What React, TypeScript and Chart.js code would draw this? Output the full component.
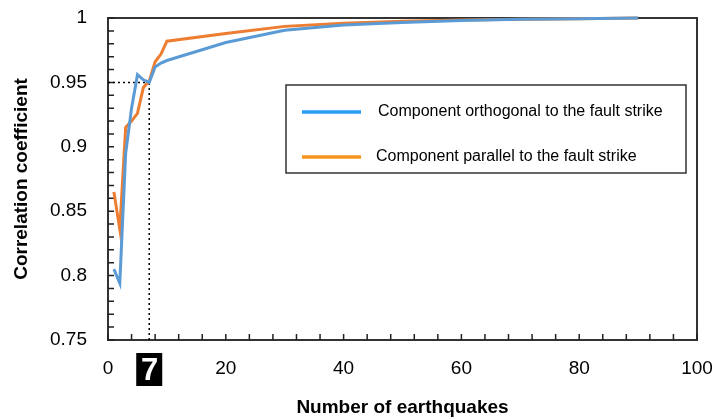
import React, { useEffect, useRef } from "react";
import { Chart, registerables } from "chart.js";

Chart.register(...registerables);

const xValues = [1, 2, 3, 4, 5, 6, 7, 8, 9, 10, 20, 30, 40, 50, 60, 70, 80, 90];
const orthogonal = [0.805, 0.794, 0.895, 0.93, 0.956, 0.952, 0.95, 0.962, 0.965, 0.967, 0.981, 0.9905, 0.9945, 0.9965, 0.998, 0.999, 0.9995, 1.0];
const parallel = [0.865, 0.836, 0.915, 0.92, 0.926, 0.946, 0.951, 0.966, 0.972, 0.982, 0.988, 0.9935, 0.996, 0.9975, 0.9985, 0.999, 0.9995, 1.0];
const seriesLabels = ["Component orthogonal to the fault strike", "Component parallel to the fault strike"];
const lineColors = ["#5B9BD5", "#ED7D31"];
const legendColors = ["#2A9DF4", "#F7941D"];
const highlightX = 7;
const highlightY = 0.95;
const xTitle = "Number of earthquakes";
const yTitle = "Correlation coefficient";

const FONT = "'Liberation Sans', Arial, sans-serif";

const overlay = {
  id: "overlay",
  beforeDatasetsDraw(chart: any) {
    const { ctx, chartArea, scales } = chart;
    const { left, right, top, bottom } = chartArea;
    const x = scales.x, y = scales.y;
    ctx.save();
    ctx.strokeStyle = "#333";
    ctx.lineWidth = 2;
    ctx.strokeRect(left, top, right - left, bottom - top);
    ctx.lineWidth = 1.5;
    ctx.strokeStyle = "#222";
    ctx.beginPath();
    for (let i = 0; i <= 25; i++) {
      const py = y.getPixelForValue(0.75 + i * 0.01);
      ctx.moveTo(left, py);
      ctx.lineTo(left + 6, py);
    }
    for (let i = 0; i <= 25; i++) {
      const px = x.getPixelForValue(i * 4);
      ctx.moveTo(px, bottom);
      ctx.lineTo(px, bottom - 6);
    }
    ctx.stroke();
    const hx = x.getPixelForValue(highlightX);
    const hy = y.getPixelForValue(highlightY);
    ctx.setLineDash([2, 3]);
    ctx.lineWidth = 1.5;
    ctx.strokeStyle = "#000";
    ctx.beginPath();
    ctx.moveTo(left, hy);
    ctx.lineTo(hx, hy);
    ctx.moveTo(hx, bottom);
    ctx.lineTo(hx, hy);
    ctx.stroke();
    ctx.restore();
  },
  afterDraw(chart: any) {
    const { ctx, chartArea, scales } = chart;
    const { bottom } = chartArea;
    const x = scales.x;
    ctx.save();
    const hx = x.getPixelForValue(highlightX);
    ctx.fillStyle = "#000";
    ctx.fillRect(hx - 13, bottom + 13, 26, 33);
    ctx.fillStyle = "#fff";
    ctx.font = `bold 31px ${FONT}`;
    ctx.textAlign = "center";
    ctx.textBaseline = "middle";
    ctx.fillText(String(highlightX), hx + 0.5, bottom + 31);
    const lx = 286, ly = 85, lw = 400, lh = 88;
    ctx.fillStyle = "#fff";
    ctx.fillRect(lx, ly, lw, lh);
    ctx.strokeStyle = "#333";
    ctx.lineWidth = 1.5;
    ctx.strokeRect(lx, ly, lw, lh);
    ctx.font = `16px ${FONT}`;
    ctx.textAlign = "left";
    ctx.textBaseline = "middle";
    const rows = [112, 157];
    seriesLabels.forEach((lab, i) => {
      ctx.strokeStyle = legendColors[i];
      ctx.lineWidth = 3.5;
      ctx.beginPath();
      ctx.moveTo(302, rows[i]);
      ctx.lineTo(361, rows[i]);
      ctx.stroke();
      ctx.fillStyle = "#000";
      ctx.fillText(lab, i === 0 ? 378 : 376, rows[i]);
    });
    ctx.restore();
  },
};

export default function App() {
  const ref = useRef<HTMLCanvasElement>(null);
  useEffect(() => {
    if (!ref.current) return;
    const chart = new Chart(ref.current, {
      type: "line",
      data: {
        datasets: [orthogonal, parallel].map((vals, i) => ({
          label: seriesLabels[i],
          data: xValues.map((xv, j) => ({ x: xv, y: vals[j] })),
          borderColor: lineColors[i],
          backgroundColor: lineColors[i],
          borderWidth: 3,
          pointRadius: 0,
          tension: 0,
          clip: false as any,
        })),
      },
      options: {
        animation: false,
        responsive: true,
        maintainAspectRatio: false,
        layout: { padding: { top: 18, right: 19, left: 0, bottom: 0 } },
        plugins: { legend: { display: false }, tooltip: { enabled: false } },
        scales: {
          x: {
            type: "linear",
            min: 0,
            max: 100,
            ticks: { stepSize: 20, color: "#000", font: { family: FONT, size: 19 }, padding: 17, maxRotation: 0 },
            grid: { display: false, drawTicks: false },
            border: { display: false },
            title: { display: true, text: xTitle, color: "#000", font: { family: FONT, size: 19, weight: "bold" }, padding: 0 },
            afterFit: (s: any) => { s.height = 79; s.paddingLeft = 0; s.paddingRight = 0; },
          },
          y: {
            type: "linear",
            min: 0.75,
            max: 1,
            ticks: {
              stepSize: 0.05,
              color: "#000",
              font: { family: FONT, size: 19 },
              padding: 21,
              callback: (v: any) => String(Number(Number(v).toFixed(2))),
            },
            grid: { display: false, drawTicks: false },
            border: { display: false },
            title: { display: true, text: yTitle, color: "#000", font: { family: FONT, size: 19, weight: "bold" }, padding: { top: 10, bottom: 0 } },
            afterFit: (s: any) => { s.width = 108; s.paddingTop = 0; s.paddingBottom = 0; },
          },
        },
      },
      plugins: [overlay],
    });
    return () => chart.destroy();
  }, []);
  return (
    <div style={{ position: "fixed", left: 0, top: 0, width: 716, height: 419, background: "#fff" }}>
      <canvas ref={ref} />
    </div>
  );
}
